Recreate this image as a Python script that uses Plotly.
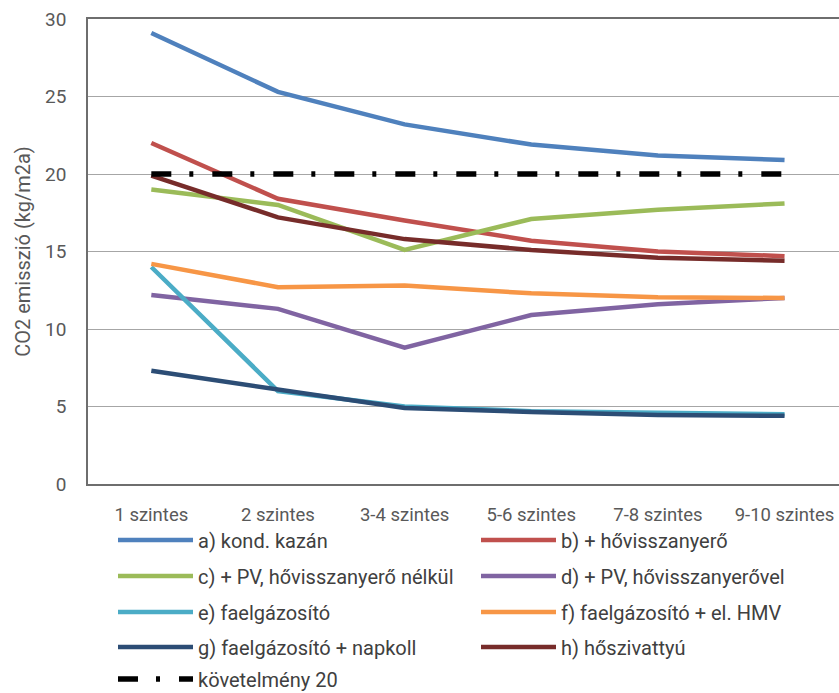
import plotly.graph_objects as go

# Building height categories
categories = ["1 szintes", "2 szintes", "3-4 szintes", "5-6 szintes", "7-8 szintes", "9-10 szintes"]

# CO2 emission per variant (kg/m2a)
kond_kazan = [29.1, 25.3, 23.2, 21.9, 21.2, 20.9]
hovisszanyero = [22.0, 18.4, 17.0, 15.7, 15.0, 14.7]
pv_nelkul = [19.0, 18.0, 15.1, 17.1, 17.7, 18.1]
pv_vel = [12.2, 11.3, 8.8, 10.9, 11.6, 12.0]
faelgazosito = [14.0, 6.0, 5.0, 4.7, 4.6, 4.5]
faelgazosito_hmv = [14.2, 12.7, 12.8, 12.3, 12.05, 12.0]
faelgazosito_napkoll = [7.3, 6.1, 4.9, 4.65, 4.45, 4.4]
hoszivattyu = [19.9, 17.2, 15.8, 15.1, 14.6, 14.4]
kovetelmeny = [20, 20, 20, 20, 20, 20]

series = [
    ("a) kond. kazán", kond_kazan, "#4F81BD"),
    ("b) + hővisszanyerő", hovisszanyero, "#C0504D"),
    ("c) + PV, hővisszanyerő nélkül", pv_nelkul, "#9BBB59"),
    ("d) + PV, hővisszanyerővel", pv_vel, "#8064A2"),
    ("e) faelgázosító", faelgazosito, "#4BACC6"),
    ("f) faelgázosító + el. HMV", faelgazosito_hmv, "#F79646"),
    ("g) faelgázosító + napkoll", faelgazosito_napkoll, "#2C4D75"),
    ("h) hőszivattyú", hoszivattyu, "#772C2A"),
]

FONT = "Roboto, sans-serif"
legend_names = ["legend", "legend2", "legend3", "legend4", "legend5"]

fig = go.Figure()
for i, (name, vals, color) in enumerate(series):
    fig.add_trace(go.Scatter(
        x=categories, y=vals, name=name, mode="lines",
        line=dict(color=color, width=4.5),
        legend=legend_names[i // 2],
    ))

fig.add_trace(go.Scatter(
    x=categories, y=kovetelmeny, name="követelmény 20", mode="lines",
    line=dict(color="black", width=5.5, dash="20px,18px,4px,19px"),
    legend="legend5",
))

# plot area in pixels: left 88, top 19, bottom 484 (465 high, 751 wide)
row_py = [540, 576, 612, 647, 679]
legend_cfg = {}
for name, py in zip(legend_names, row_py):
    legend_cfg[name] = dict(
        orientation="h", x=(113 - 88) / 751, xanchor="left",
        y=(484 - py) / 465, yanchor="middle",
        entrywidth=273, itemwidth=75,
        font=dict(family=FONT, size=20, color="#404040"),
        bgcolor="rgba(0,0,0,0)", traceorder="normal",
    )

fig.update_layout(
    width=839, height=693,
    margin=dict(l=88, r=0, t=19, b=209, autoexpand=False),
    paper_bgcolor="white", plot_bgcolor="white",
    font=dict(family=FONT, color="#595959"),
    showlegend=True,
    **legend_cfg,
)

fig.update_xaxes(
    type="category", range=[-0.5, 5.43],
    showline=True, linecolor="#6E6E6E", linewidth=1.5, mirror=True,
    showgrid=False, ticks="", ticklabelstandoff=13,
    tickfont=dict(family=FONT, size=18.5, color="#595959"),
)
fig.update_yaxes(
    range=[0, 30], tickvals=[0, 5, 10, 15, 20, 25, 30],
    showline=True, linecolor="#6E6E6E", linewidth=1.5,
    showgrid=True, gridcolor="#A6A6A6", gridwidth=1,
    zeroline=False, ticks="", ticklabelstandoff=16,
    tickfont=dict(family=FONT, size=19, color="#595959"),
    title=dict(text="CO2 emisszió (kg/m2a)", standoff=9,
               font=dict(family=FONT, size=20, color="#595959")),
)

fig.write_html("out.html")
